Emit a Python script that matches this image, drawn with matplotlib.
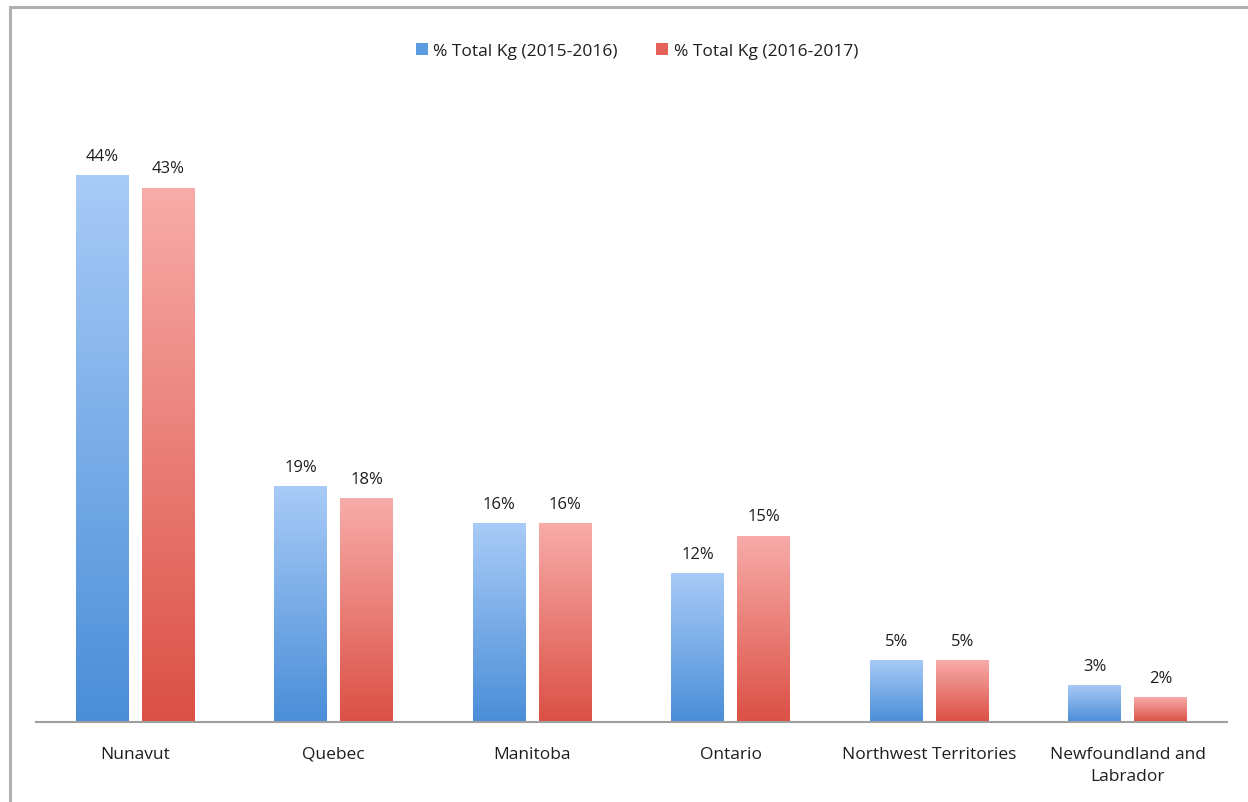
import numpy as np
import matplotlib.pyplot as plt
from matplotlib.colors import LinearSegmentedColormap
from matplotlib.patches import Patch, Rectangle

# ---------- DADOS ----------
provincias = ["Nunavut", "Quebec", "Manitoba", "Ontario",
              "Northwest Territories", "Newfoundland and\nLabrador"]
pct_1516 = [44, 19, 16, 12, 5, 3]
pct_1617 = [43, 18, 16, 15, 5, 2]
series = ["% Total Kg (2015-2016)", "% Total Kg (2016-2017)"]

C_AZUL = ("#A9CBF7", "#4A8ED8")   # topo, base
C_VERM = ("#F8ACA9", "#DB5045")
C_TXT = "#1E1E1E"; C_EIXO = "#A0A0A0"

plt.rcParams.update({"font.family": ["Open Sans", "DejaVu Sans"], "font.size": 12})

fig = plt.figure(figsize=(12.48, 8.03), dpi=100)
ax = fig.add_axes([36/1248, 80/803, 1191/1248, 621.5/803])

x = np.arange(len(provincias))
w = 0.267; off = 0.166


def barras_gradiente(ax, xs, vals, cores):
    cmap = LinearSegmentedColormap.from_list("g", [cores[1], cores[0]])
    bars = ax.bar(xs, vals, w, color="none", edgecolor="none")
    grad = np.linspace(0, 1, 256).reshape(-1, 1)
    for b in bars:
        x0, y0 = b.get_x(), b.get_y()
        im = ax.imshow(grad, cmap=cmap, aspect="auto", origin="lower",
                       extent=[x0, x0 + b.get_width(), y0, y0 + b.get_height()],
                       zorder=2)
        im.set_clip_path(b)
    return bars


b1 = barras_gradiente(ax, x - off, pct_1516, C_AZUL)
b2 = barras_gradiente(ax, x + off, pct_1617, C_VERM)

for bars, vals in ((b1, pct_1516), (b2, pct_1617)):
    for b, v in zip(bars, vals):
        ax.annotate(f"{v}%", (b.get_x() + b.get_width()/2, v),
                    xytext=(0, 8), textcoords="offset points",
                    ha="center", va="bottom", fontsize=12, color=C_TXT)

ax.set_xlim(-0.5, len(provincias) - 0.5)
ax.set_ylim(0, 50)
ax.set_xticks(x)
ax.set_xticklabels(provincias, color=C_TXT, fontsize=12.5, linespacing=1.55)
ax.tick_params(axis="x", length=0, pad=17)
ax.set_yticks([])
for s in ("top", "right", "left"):
    ax.spines[s].set_visible(False)
ax.spines["bottom"].set_color(C_EIXO)
ax.spines["bottom"].set_linewidth(1.5)

handles = [Patch(facecolor="#5B9BE0"), Patch(facecolor="#E4625A")]
fig.legend(handles, series, loc="center", bbox_to_anchor=(637/1248, 1 - 52/803),
           ncol=2, frameon=False, fontsize=12.5, handlelength=0.7, handleheight=0.7,
           handletextpad=0.3, columnspacing=2.2, labelcolor=C_TXT)

# moldura (topo e esquerda)
fig.add_artist(Rectangle((10/1248, -0.1), 1.2, 1 - 8/803 + 0.1, transform=fig.transFigure,
                         fill=False, edgecolor="#B0B0B0", lw=2.2))

fig.savefig("out.png", dpi=100)
